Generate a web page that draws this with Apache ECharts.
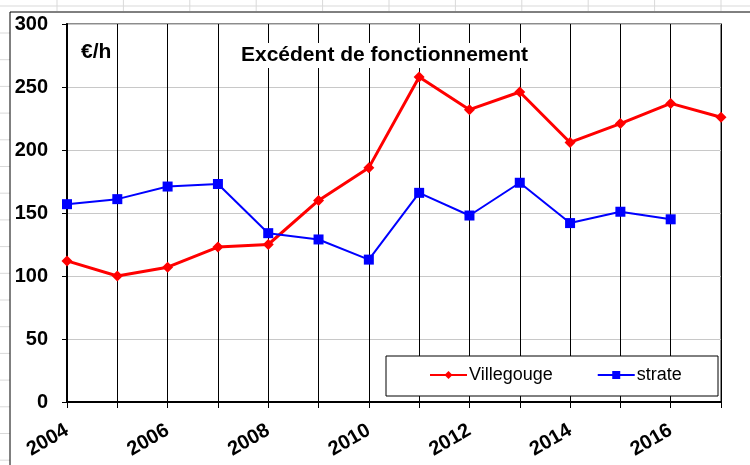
<!DOCTYPE html>
<html>
<head>
<meta charset="utf-8">
<script src="https://cdn.jsdelivr.net/npm/echarts@6/dist/echarts.min.js"></script>
<style>
  html, body { margin: 0; padding: 0; background: #fff; }
  #main { width: 750px; height: 465px; }
</style>
</head>
<body>
<div id="main"></div>
<script>
var years = ['2004', '2005', '2006', '2007', '2008', '2009', '2010', '2011', '2012', '2013', '2014', '2015', '2016', '2017'];
var villegouge = [112, 100, 107, 123, 125, 160, 186, 258, 232, 246, 206, 221, 237, 226];
var strate = [157, 161, 171, 173, 134, 129, 113, 166, 148, 174, 142, 151, 145, null];

var myChart = echarts.init(document.getElementById('main'));

// decor: spreadsheet lines behind the chart
var decor = [];
for (var i = 0; i < 11; i++) {
    var x = 57 + i * 66.4;
    decor.push({ type: 'line', shape: { x1: x, y1: 0, x2: x, y2: 11 }, style: { stroke: '#d9d9d9', lineWidth: 1 } });
}
decor.push({ type: 'line', shape: { x1: 0, y1: 6, x2: 750, y2: 6 }, style: { stroke: '#d9d9d9', lineWidth: 1 } });
for (var j = 0; j < 17; j++) {
    var y = 33 + j * 26.7;
    decor.push({ type: 'line', shape: { x1: 0, y1: y, x2: 10, y2: y }, style: { stroke: '#d9d9d9', lineWidth: 1 } });
}
// chart frame
decor.push({ type: 'polyline', shape: { points: [[10, 465], [10, 12], [750, 12]] }, style: { stroke: '#000', lineWidth: 1, fill: null } });
// legend box
decor.push({ type: 'rect', z: 10, shape: { x: 386, y: 356, width: 332, height: 40 }, style: { fill: '#fff', stroke: '#000', lineWidth: 1 } });
decor.push({ type: 'text', z: 10, left: 81, top: 42, style: { text: '€/h', font: 'bold 21px "Liberation Sans", Arial', fill: '#000' } });
decor.push({ type: 'text', z: 10, left: 240, top: 43, style: { text: 'Excédent de fonctionnement', font: 'bold 21px "Liberation Sans", Arial', fill: '#000', backgroundColor: '#fff', padding: [2, 1] } });

var option = {
    animation: false,
    backgroundColor: '#fff',
    textStyle: { fontFamily: '"Liberation Sans", Arial' },
    graphic: decor,
    legend: {
        z: 20,
        left: 429,
        top: 366,
        padding: 0,
        itemWidth: 37,
        itemHeight: 10,
        itemGap: 44,
        textStyle: { fontSize: 18, color: '#000', padding: [0, 0, 0, -3] },
        data: ['Villegouge', 'strate']
    },
    grid: {
        left: 67,
        right: 29,
        top: 24,
        bottom: 63,
        show: true,
        borderColor: '#8c8c8c',
        borderWidth: 2
    },
    xAxis: {
        type: 'category',
        boundaryGap: false,
        data: years,
        axisLine: { lineStyle: { color: '#000', width: 2 } },
        axisTick: { show: true, interval: 0, length: 6, lineStyle: { color: '#000' } },
        axisLabel: {
            interval: 1,
            rotate: 30,
            margin: 27,
            color: '#000',
            fontSize: 20,
            fontWeight: 'bold'
        },
        splitLine: { show: true, interval: 0, lineStyle: { color: '#000', width: 1 } }
    },
    yAxis: {
        type: 'value',
        min: 0,
        max: 300,
        interval: 50,
        axisLine: { show: true, lineStyle: { color: '#000', width: 2 } },
        axisTick: { show: true, length: 5, lineStyle: { color: '#000' } },
        axisLabel: { color: '#000', fontSize: 20, fontWeight: 'bold', margin: 19 },
        splitLine: { lineStyle: { color: '#c8c8c8', width: 1 } }
    },
    series: [
        {
            name: 'Villegouge',
            type: 'line',
            data: villegouge,
            symbol: 'diamond',
            symbolSize: 11,
            lineStyle: { color: '#ff0000', width: 3 },
            itemStyle: { color: '#ff0000' }
        },
        {
            name: 'strate',
            type: 'line',
            data: strate,
            symbol: 'rect',
            symbolSize: 10,
            lineStyle: { color: '#0000ff', width: 2 },
            itemStyle: { color: '#0000ff' }
        }
    ]
};
myChart.setOption(option);
</script>
</body>
</html>
